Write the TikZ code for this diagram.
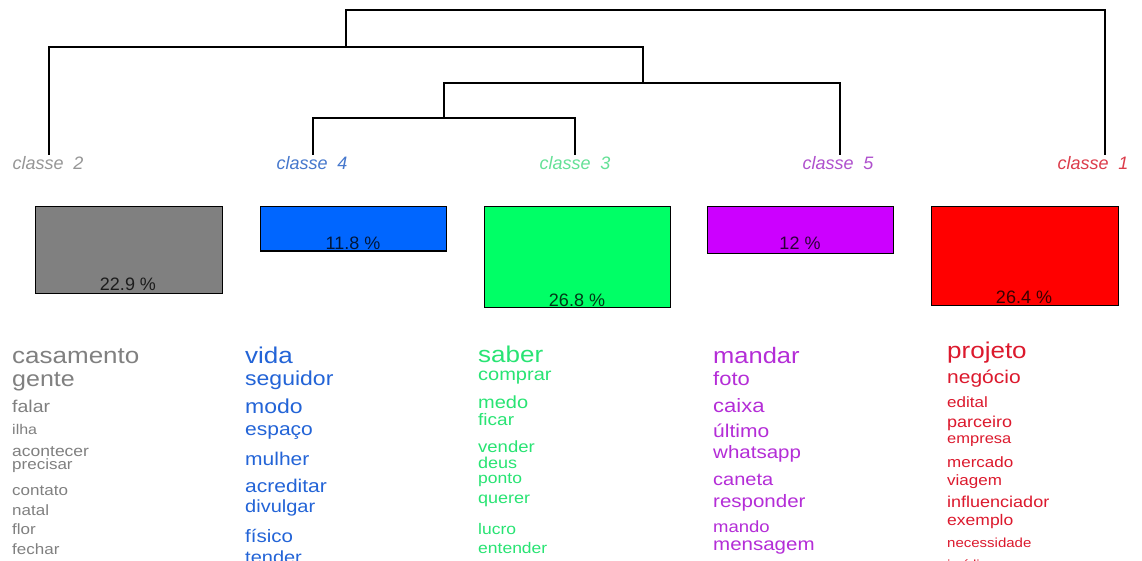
\documentclass[tikz,border=0pt]{standalone}
\usepackage{fontspec}
\setmainfont{Liberation Sans}
\definecolor{bxgray}{RGB}{128,128,128}
\definecolor{bxblue}{RGB}{0,102,255}
\definecolor{bxgreen}{RGB}{0,255,102}
\definecolor{bxpurple}{RGB}{204,0,255}
\definecolor{bxred}{RGB}{255,0,0}
\definecolor{txgray}{RGB}{128,128,128}
\definecolor{txblue}{RGB}{35,100,215}
\definecolor{txgreen}{RGB}{40,228,115}
\definecolor{txpurple}{RGB}{180,45,215}
\definecolor{txred}{RGB}{220,25,45}
\definecolor{lbgray}{RGB}{150,150,150}
\definecolor{lbblue}{RGB}{70,120,205}
\definecolor{lbgreen}{RGB}{100,225,150}
\definecolor{lbpurple}{RGB}{175,80,205}
\definecolor{lbred}{RGB}{220,60,75}
\newcommand\wrd[5]{\node[word, text=#1] (#2) at (#3) {\scalebox{1.14}[1]{\fontsize{\fpeval{#4/1.14}}{\fpeval{#4/1.14}}\selectfont #5}};}
\newcommand\clabel[4]{\node[classlbl, text=#1] (#2) at (#3) {\fontsize{18}{18}\selectfont\itshape classe\hspace{0.55em}#4};}
\begin{document}
\begin{tikzpicture}[x=1pt,y=-1pt,
  word/.style={anchor=base west, inner sep=0pt},
  classlbl/.style={anchor=base, inner sep=0pt},
  dendro/.style={line width=1.5pt, black},
  bar/.style={draw=black, line width=1pt},
  pct/.style={anchor=base, inner sep=0pt, text=black, text opacity=0.78, font=\fontsize{18}{18}\selectfont}]
\path[use as bounding box, clip] (0,0) rectangle (1142,561);
\fill[white] (0,0) rectangle (1142,561);

% leaves of the dendrogram
\coordinate (l2) at (49,155);
\coordinate (l4) at (313,155);
\coordinate (l3) at (575,155);
\coordinate (l5) at (840,155);
\coordinate (l1) at (1105,155);
\coordinate (m43) at (444,118);
\coordinate (m435) at (643,83);
\coordinate (m2435) at (346,47);
% dendrogram
\draw[dendro] (l4) |- (m43) -| (l3);
\draw[dendro] (m43) |- (m435) -| (l5);
\draw[dendro] (l2) |- (m2435) -| (m435);
\draw[dendro] (m2435) |- (726,10) -| (l1);

% class labels
\clabel{lbgray}{c2}{48,170}{2}
\clabel{lbblue}{c4}{312,170}{4}
\clabel{lbgreen}{c3}{575,170}{3}
\clabel{lbpurple}{c5}{838,170}{5}
\clabel{lbred}{c1}{1093,170}{1}

% bars
\draw[bar, fill=bxgray] (35,207) rectangle (222,293);
\draw[bar, fill=bxblue] (260,207) rectangle (446,251);
\draw[bar, fill=bxgreen] (484,207) rectangle (670,307);
\draw[bar, fill=bxpurple] (707,207) rectangle (893,253);
\draw[bar, fill=bxred] (931,207) rectangle (1118,305);
\node[pct] (p2) at (128,290) {22.9 \%};
\node[pct] (p4) at (353,249) {11.8 \%};
\node[pct] (p3) at (577,306) {26.8 \%};
\node[pct] (p5) at (800,249) {12 \%};
\node[pct] (p1) at (1024,303) {26.4 \%};

% classe 2 words
\wrd{txgray}{g1}{12,363}{26}{casamento}
\wrd{txgray}{g2}{12,386}{25}{gente}
\wrd{txgray}{g3}{12,412}{19.5}{falar}
\wrd{txgray}{g4}{12,434}{16}{ilha}
\wrd{txgray}{g5}{12,456}{17.5}{acontecer}
\wrd{txgray}{g6}{12,469}{17}{precisar}
\wrd{txgray}{g7}{12,495}{17}{contato}
\wrd{txgray}{g8}{12,515}{17}{natal}
\wrd{txgray}{g9}{12,534}{17}{flor}
\wrd{txgray}{g10}{12,554}{17}{fechar}

% classe 4 words
\wrd{txblue}{b1}{245,363}{26}{vida}
\wrd{txblue}{b2}{245,385}{23}{seguidor}
\wrd{txblue}{b3}{245,413}{23}{modo}
\wrd{txblue}{b4}{245,435}{21}{espaço}
\wrd{txblue}{b5}{245,465}{21}{mulher}
\wrd{txblue}{b6}{245,492}{21}{acreditar}
\wrd{txblue}{b7}{245,512}{20}{divulgar}
\wrd{txblue}{b8}{245,542}{20.5}{físico}
\wrd{txblue}{b9}{245,563}{20}{tender}

% classe 3 words
\wrd{txgreen}{v1}{478,362}{26}{saber}
\wrd{txgreen}{v2}{478,380}{20}{comprar}
\wrd{txgreen}{v3}{478,408}{20}{medo}
\wrd{txgreen}{v4}{478,425}{19}{ficar}
\wrd{txgreen}{v5}{478,452}{18.5}{vender}
\wrd{txgreen}{v6}{478,468}{18}{deus}
\wrd{txgreen}{v7}{478,483}{17.5}{ponto}
\wrd{txgreen}{v8}{478,503}{18}{querer}
\wrd{txgreen}{v9}{478,534}{17.5}{lucro}
\wrd{txgreen}{v10}{478,553}{17.5}{entender}

% classe 5 words
\wrd{txpurple}{r1}{713,363}{25.5}{mandar}
\wrd{txpurple}{r2}{713,385}{22}{foto}
\wrd{txpurple}{r3}{713,412}{22}{caixa}
\wrd{txpurple}{r4}{713,437}{21}{último}
\wrd{txpurple}{r5}{713,458}{20.5}{whatsapp}
\wrd{txpurple}{r6}{713,485}{20}{caneta}
\wrd{txpurple}{r7}{713,507}{20.5}{responder}
\wrd{txpurple}{r8}{713,532}{18.5}{mando}
\wrd{txpurple}{r9}{713,550}{20.5}{mensagem}

% classe 1 words
\wrd{txred}{e1}{947,358}{26}{projeto}
\wrd{txred}{e2}{947,383}{21}{negócio}
\wrd{txred}{e3}{947,407}{17}{edital}
\wrd{txred}{e4}{947,427}{18}{parceiro}
\wrd{txred}{e5}{947,443}{16.5}{empresa}
\wrd{txred}{e6}{947,467}{17}{mercado}
\wrd{txred}{e7}{947,485}{17}{viagem}
\wrd{txred}{e8}{947,507}{18}{influenciador}
\wrd{txred}{e9}{947,525}{17.5}{exemplo}
\wrd{txred}{e10}{947,547}{15}{necessidade}
\wrd{txred}{e11}{947,569}{15}{jurídico}
\end{tikzpicture}
\end{document}
